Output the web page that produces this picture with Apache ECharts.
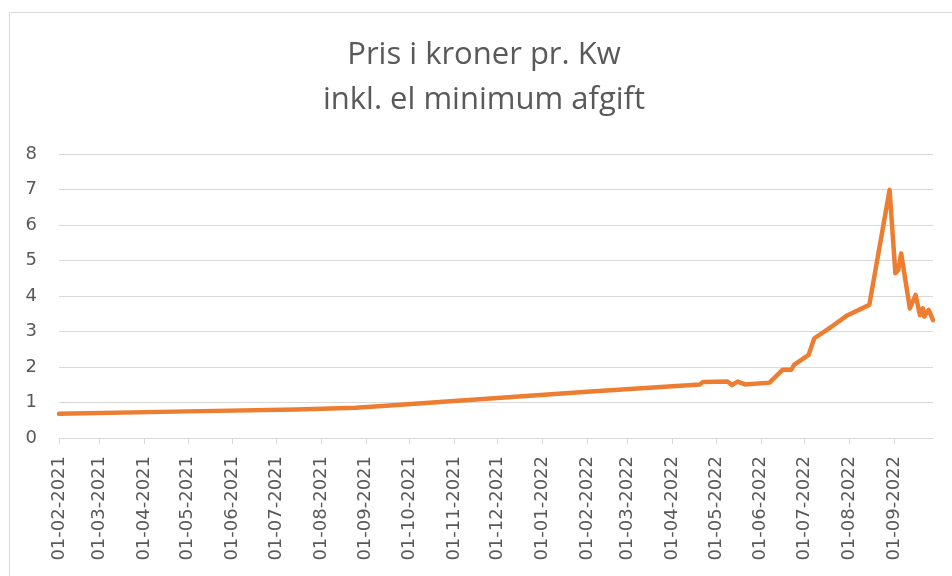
<!DOCTYPE html>
<html>
<head>
<meta charset="utf-8">
<script src="https://cdn.jsdelivr.net/npm/echarts@6/dist/echarts.min.js"></script>
<style>
html,body{margin:0;padding:0;background:#fff;}
#chart{width:952px;height:576px;}
</style>
</head>
<body>
<div id="chart"></div>
<script>
// ---- data ----
const dates = [
  '2021-02-01','2021-05-01','2021-07-15','2021-08-25','2021-09-15','2021-12-01',
  '2022-02-01','2022-04-20','2022-04-22','2022-05-09','2022-05-12','2022-05-16',
  '2022-05-21','2022-06-07','2022-06-16','2022-06-22','2022-06-24','2022-07-04',
  '2022-07-08','2022-07-20','2022-07-31','2022-08-15','2022-08-29','2022-09-02',
  '2022-09-04','2022-09-06','2022-09-12','2022-09-16','2022-09-19','2022-09-21',
  '2022-09-22','2022-09-25','2022-09-28'
];
const prices = [
  0.68, 0.75, 0.80, 0.85, 0.91, 1.13,
  1.30, 1.51, 1.58, 1.59, 1.49, 1.59,
  1.51, 1.56, 1.92, 1.92, 2.06, 2.34,
  2.81, 3.14, 3.46, 3.75, 6.99, 4.64,
  4.73, 5.20, 3.65, 4.03, 3.46, 3.65,
  3.42, 3.61, 3.32
];
const monthTicks = [
  '2021-02-01','2021-03-01','2021-04-01','2021-05-01','2021-06-01','2021-07-01',
  '2021-08-01','2021-09-01','2021-10-01','2021-11-01','2021-12-01','2022-01-01',
  '2022-02-01','2022-03-01','2022-04-01','2022-05-01','2022-06-01','2022-07-01',
  '2022-08-01','2022-09-01'
];
const yTicks = [0,1,2,3,4,5,6,7,8];
const titleLines = ['Pris i kroner pr. Kw', 'inkl. el minimum afgift'];

function ts(s){ const p = s.split('-').map(Number); return Date.UTC(p[0], p[1]-1, p[2]); }
function pad(n){ return (n<10?'0':'')+n; }
function fmt(v){ const d = new Date(v); return pad(d.getUTCDate())+'-'+pad(d.getUTCMonth()+1)+'-'+d.getUTCFullYear(); }

const tickValues = monthTicks.map(ts);
const seriesData = dates.map((d,i)=>[ts(d), prices[i]]);

const chart = echarts.init(document.getElementById('chart'), null, {renderer:'canvas'});
chart.setOption({
  animation:false,
  backgroundColor:'#ffffff',
  title:{
    text: titleLines.join('\n'),
    left: 479, top: 28, textAlign:'center',
    textStyle:{fontFamily:'Open Sans', fontSize:31, fontWeight:'normal', color:'#595959', lineHeight:45}
  },
  graphic:[{
    type:'rect', silent:true,
    shape:{x:9.5, y:12.5, width:1000, height:1000},
    style:{fill:'none', stroke:'#d9d9d9', lineWidth:1}
  }],
  grid:{left:59, right:19, top:154, bottom:138},
  xAxis:{
    type:'value',
    min: ts('2021-02-01'), max: ts('2022-09-28'),
    axisLine:{show:true, onZero:false, lineStyle:{color:'#d9d9d9', width:1}},
    axisTick:{show:true, customValues: tickValues, length:6, lineStyle:{color:'#d9d9d9'}},
    axisLabel:{
      customValues: tickValues, rotate:90, margin:18,
      formatter: v => fmt(v),
      fontFamily:'DejaVu Sans', fontSize:18, color:'#595959'
    },
    splitLine:{show:false}
  },
  yAxis:{
    type:'value', min:0, max:8, interval:1,
    axisLine:{show:false}, axisTick:{show:false},
    axisLabel:{margin:22, fontFamily:'DejaVu Sans', fontSize:18, color:'#595959'},
    splitLine:{show:true, lineStyle:{color:'#d9d9d9', width:1}}
  },
  series:[{
    type:'line',
    data: seriesData,
    showSymbol:false, symbol:'none',
    lineStyle:{color:'#ED7D31', width:4.5, join:'round', cap:'round'},
    itemStyle:{color:'#ED7D31'}
  }]
});
</script>
</body>
</html>
